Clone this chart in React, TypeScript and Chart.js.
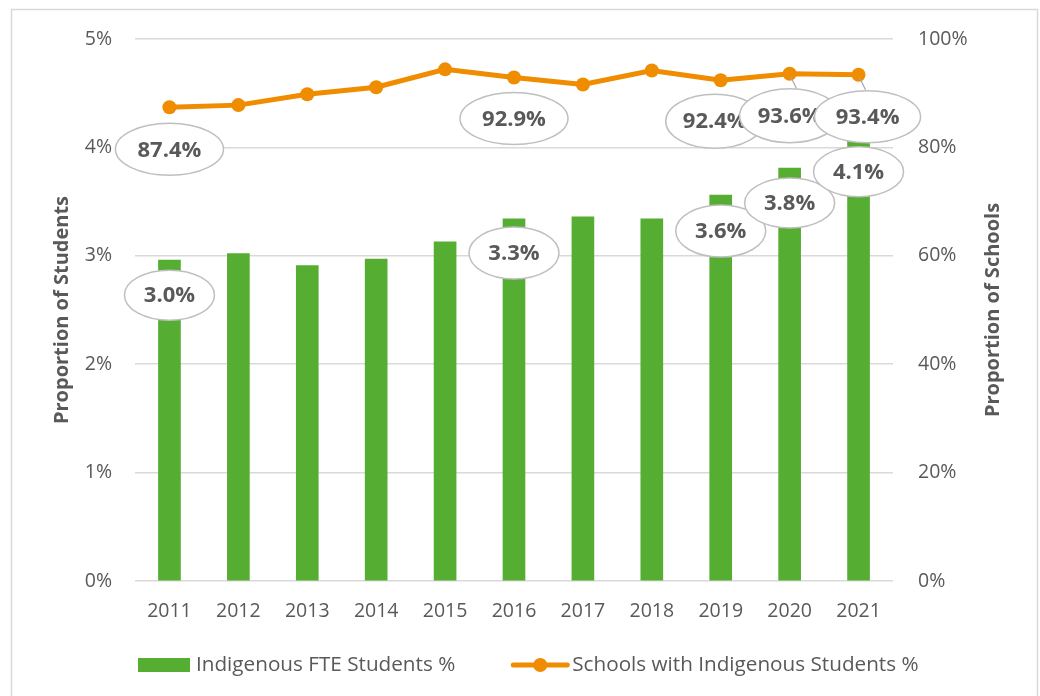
import { useEffect, useRef } from "react";
import { Chart, registerables } from "chart.js";

Chart.register(...registerables);

const years = ["2011", "2012", "2013", "2014", "2015", "2016", "2017", "2018", "2019", "2020", "2021"];
const studentPct = [2.96, 3.02, 2.91, 2.97, 3.13, 3.34, 3.36, 3.34, 3.56, 3.81, 4.08];
const schoolPct = [87.4, 87.8, 89.8, 91.1, 94.4, 92.9, 91.6, 94.2, 92.4, 93.6, 93.4];
const seriesNames = ["Indigenous FTE Students %", "Schools with Indigenous Students %"];
const axisTitles = ["Proportion of Students", "Proportion of Schools"];
const leftAxisMax = 5;
const rightAxisMax = 100;

// callout label placement (offsets from the data point, in px)
const barCallouts = [
  { i: 0, dx: 0, dy: 35, rx: 45, ry: 25 },
  { i: 5, dx: 0, dy: 34, rx: 45, ry: 26 },
  { i: 8, dx: 0, dy: 36, rx: 45, ry: 26 },
  { i: 9, dx: 0, dy: 35, rx: 45, ry: 25 },
  { i: 10, dx: 0, dy: 33, rx: 45, ry: 25 },
];
const lineCallouts = [
  { i: 0, dx: 0, dy: 42, rx: 54, ry: 26, leader: false },
  { i: 5, dx: 0, dy: 41, rx: 54, ry: 26, leader: false },
  { i: 8, dx: -6, dy: 41, rx: 49, ry: 27, leader: false },
  { i: 9, dx: 0, dy: 42, rx: 50, ry: 27, leader: true },
  { i: 10, dx: 9, dy: 42, rx: 53, ry: 26, leader: true },
];

const GREEN = "#55ae32";
const ORANGE = "#f08c00";
const TEXT = "#595959";
const FONT = "'Open Sans', sans-serif";

const decorPlugin = {
  id: "decor",
  beforeDraw(chart: any) {
    const ctx = chart.ctx;
    ctx.save();
    ctx.fillStyle = "#ffffff";
    ctx.fillRect(0, 0, chart.width, chart.height);
    ctx.strokeStyle = "#d9d9d9";
    ctx.lineWidth = 1.5;
    ctx.strokeRect(11.5, 9.5, 1026, 720);
    ctx.restore();
  },
  afterDatasetsDraw(chart: any) {
    const ctx = chart.ctx;
    const barMeta = chart.getDatasetMeta(1);
    const lineMeta = chart.getDatasetMeta(0);
    ctx.save();
    const drawCallout = (cx: number, cy: number, rx: number, ry: number, text: string) => {
      ctx.beginPath();
      ctx.ellipse(cx, cy, rx, ry, 0, 0, Math.PI * 2);
      ctx.fillStyle = "#ffffff";
      ctx.fill();
      ctx.strokeStyle = "#bfbfbf";
      ctx.lineWidth = 1.5;
      ctx.stroke();
      ctx.fillStyle = TEXT;
      ctx.font = `bold 22px ${FONT}`;
      ctx.textAlign = "center";
      ctx.textBaseline = "middle";
      ctx.fillText(text, cx, cy + 1);
    };
    barCallouts.forEach((c) => {
      const el = barMeta.data[c.i];
      drawCallout(el.x + c.dx, el.y + c.dy, c.rx, c.ry, studentPct[c.i].toFixed(1) + "%");
    });
    lineCallouts.forEach((c) => {
      const el = lineMeta.data[c.i];
      if (c.leader) {
        ctx.beginPath();
        ctx.moveTo(el.x + 1, el.y + 3);
        ctx.lineTo(el.x + 7, el.y + 15);
        ctx.strokeStyle = "#a6a6a6";
        ctx.lineWidth = 1.2;
        ctx.stroke();
      }
      drawCallout(el.x + c.dx, el.y + c.dy, c.rx, c.ry, schoolPct[c.i].toFixed(1) + "%");
    });
    ctx.restore();
  },
  afterDraw(chart: any) {
    const ctx = chart.ctx;
    const area = chart.chartArea;
    const midY = (area.top + area.bottom) / 2;
    ctx.save();
    ctx.fillStyle = TEXT;
    ctx.font = `bold 20px ${FONT}`;
    ctx.textAlign = "center";
    ctx.textBaseline = "middle";
    ctx.translate(62, midY);
    ctx.rotate(-Math.PI / 2);
    ctx.fillText(axisTitles[0], 0, 0);
    ctx.restore();
    ctx.save();
    ctx.fillStyle = TEXT;
    ctx.font = `bold 20px ${FONT}`;
    ctx.textAlign = "center";
    ctx.textBaseline = "middle";
    ctx.translate(993, midY);
    ctx.rotate(-Math.PI / 2);
    ctx.fillText(axisTitles[1], 0, 0);
    ctx.restore();

    // legend
    ctx.save();
    const ly = 665;
    ctx.font = `20.7px ${FONT}`;
    ctx.textBaseline = "middle";
    ctx.textAlign = "left";
    ctx.fillStyle = GREEN;
    ctx.fillRect(138, ly - 7, 52, 14);
    ctx.fillStyle = TEXT;
    ctx.fillText(seriesNames[0], 196, ly);
    const x2 = 196 + ctx.measureText(seriesNames[0]).width + 58;
    ctx.strokeStyle = ORANGE;
    ctx.lineWidth = 5;
    ctx.lineCap = "round";
    ctx.beginPath();
    ctx.moveTo(x2, ly);
    ctx.lineTo(x2 + 54, ly);
    ctx.stroke();
    ctx.fillStyle = ORANGE;
    ctx.beginPath();
    ctx.arc(x2 + 27, ly, 7, 0, Math.PI * 2);
    ctx.fill();
    ctx.fillStyle = TEXT;
    ctx.fillText(seriesNames[1], x2 + 59, ly);
    ctx.restore();
  },
};

export default function App() {
  const ref = useRef<HTMLCanvasElement | null>(null);
  useEffect(() => {
    if (!ref.current) return;
    const chart = new Chart(ref.current, {
      type: "bar",
      data: {
        labels: years,
        datasets: [
          {
            type: "line",
            label: seriesNames[1],
            data: schoolPct,
            yAxisID: "y1",
            borderColor: ORANGE,
            backgroundColor: ORANGE,
            borderWidth: 5,
            pointRadius: 7,
            pointHoverRadius: 7,
            pointBorderWidth: 0,
            tension: 0,
            order: 0,
          } as any,
          {
            type: "bar",
            label: seriesNames[0],
            data: studentPct,
            yAxisID: "y",
            backgroundColor: GREEN,
            barThickness: 22,
            order: 1,
          } as any,
        ],
      },
      options: {
        responsive: false,
        animation: false,
        layout: { padding: { top: 39, left: 0, right: 0, bottom: 0 } },
        plugins: { legend: { display: false }, tooltip: { enabled: false } },
        scales: {
          x: {
            grid: { display: false, drawTicks: false },
            border: { display: false },
            ticks: { color: TEXT, font: { family: FONT, size: 19.5 }, padding: 19 },
            afterFit: (s: any) => {
              s.height = 115;
            },
          },
          y: {
            position: "left",
            min: 0,
            max: leftAxisMax,
            ticks: {
              stepSize: 1,
              color: TEXT,
              font: { family: FONT, size: 19.5 },
              padding: 23,
              callback: (v: any) => v + "%",
            },
            grid: { color: "#d9d9d9", lineWidth: 1.5, drawTicks: false },
            border: { display: false },
            afterFit: (s: any) => {
              s.width = 135;
            },
          },
          y1: {
            position: "right",
            min: 0,
            max: rightAxisMax,
            ticks: {
              stepSize: 20,
              color: TEXT,
              font: { family: FONT, size: 19.5 },
              padding: 25,
              callback: (v: any) => v + "%",
            },
            grid: { display: false, drawTicks: false },
            border: { display: false },
            afterFit: (s: any) => {
              s.width = 147;
            },
          },
        },
      },
      plugins: [decorPlugin],
    });
    return () => chart.destroy();
  }, []);
  return (
    <div style={{ position: "fixed", left: 0, top: 0, width: 1040, height: 696, background: "#fff" }}>
      <canvas ref={ref} width={1040} height={696} style={{ display: "block" }} />
    </div>
  );
}
